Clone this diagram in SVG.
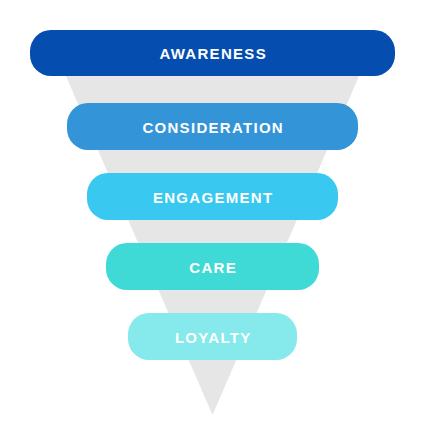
<svg xmlns="http://www.w3.org/2000/svg" width="433" height="446" viewBox="0 0 433 446">
<style>
.lbl{font-family:"Liberation Sans",Arial,sans-serif;font-weight:bold;font-size:15px;letter-spacing:1.3px;fill:#ffffff;text-anchor:middle}
</style>
<rect width="433" height="446" fill="#ffffff"/>
<g id="funnel">
<polygon points="56,53 369,53 212.5,415" fill="#e6e6e6"/>
</g>
<g id="connectors"></g>
<g id="awareness">
<rect x="30" y="30" width="365" height="46" rx="21" fill="#054eb0"/>
<text class="lbl" x="213.2" y="58.7">AWARENESS</text>
</g>
<g id="consideration">
<rect x="67" y="103" width="291" height="47" rx="21" fill="#3394d8"/>
<text class="lbl" x="213.2" y="133.3">CONSIDERATION</text>
</g>
<g id="engagement">
<rect x="87" y="173" width="251" height="47" rx="21" fill="#38c8f0"/>
<text class="lbl" x="213.2" y="203.3">ENGAGEMENT</text>
</g>
<g id="care">
<rect x="106" y="243" width="213" height="47" rx="21" fill="#40dad6"/>
<text class="lbl" x="213.2" y="273.3">CARE</text>
</g>
<g id="loyalty">
<rect x="128" y="313" width="169" height="47" rx="21" fill="#86e9eb"/>
<text class="lbl" x="213.2" y="343.3">LOYALTY</text>
</g>
</svg>
